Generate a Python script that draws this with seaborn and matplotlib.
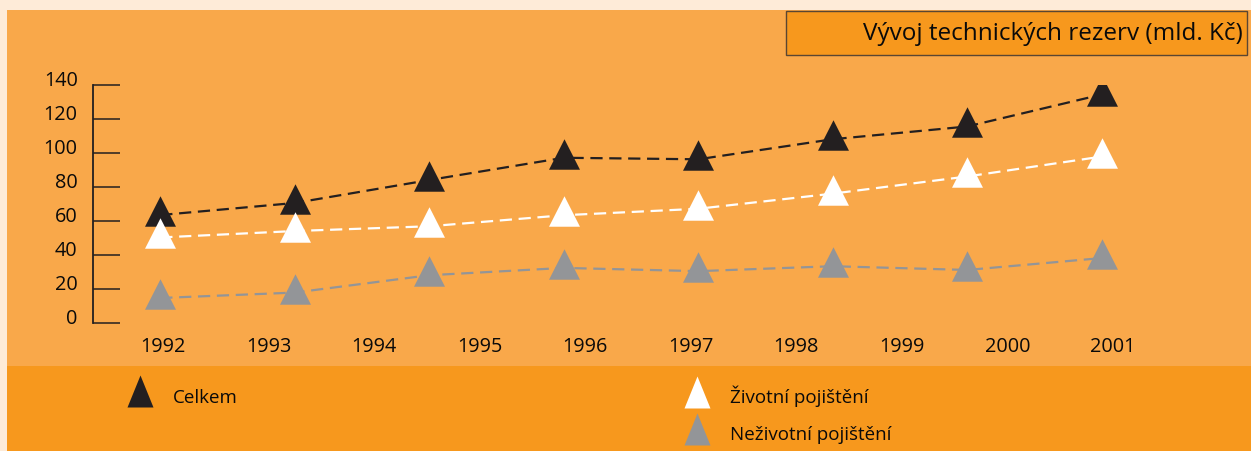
import matplotlib
matplotlib.use("Agg")
import matplotlib.pyplot as plt
from matplotlib.patches import Rectangle
from matplotlib.lines import Line2D
from matplotlib.transforms import ScaledTranslation
import seaborn as sns
import pandas as pd

# ---- data ----
years = ["1992", "1993", "1994", "1995", "1996", "1997", "1998", "1999", "2000", "2001"]
point_index = [0, 1, 2, 3, 4, 5, 6, 7]
celkem = [63.5, 70.6, 84.1, 97.2, 96.3, 108.1, 115.6, 134.4]
zivotni = [50.3, 54.1, 56.9, 63.4, 67.2, 76.1, 86.2, 97.9]
nezivotni = [14.7, 17.9, 28.1, 32.4, 30.5, 33.4, 31.2, 38.2]
series_names = ["Celkem", "Životní pojištění", "Neživotní pojištění"]
yticks = [0, 20, 40, 60, 80, 100, 120, 140]
title = "Vývoj technických rezerv (mld. Kč)"

# ---- style ----
sns.set_theme(style="white")
plt.rcParams["font.family"] = ["Open Sans", "DejaVu Sans"]
FS_TICK = 14.3
FS_LEG = 13.5
FS_TITLE = 17.5
CREAM = "#FEEBD8"
PANEL = "#F9A84A"
BAND = "#F7981D"
DARK = "#231F20"
GRAY = "#939598"
TXT = "#0A0A0A"
colors = [DARK, "#FFFFFF", GRAY]

W, H = 1251, 452
fig = plt.figure(figsize=(W / 100, H / 100), dpi=100, facecolor=CREAM)

def fx(px):
    return px / W

def fy(py):
    return 1 - py / H

# background panels
fig.add_artist(Rectangle((fx(7), fy(367)), fx(W - 7), (367 - 11) / H,
                         transform=fig.transFigure, facecolor=PANEL, edgecolor="none", zorder=-10))
fig.add_artist(Rectangle((fx(7), 0), fx(W - 7), (H - 367) / H,
                         transform=fig.transFigure, facecolor=BAND, edgecolor="none", zorder=-10))
# title box
fig.add_artist(Rectangle((fx(786), fy(56)), fx(1247 - 786), 44 / H,
                         transform=fig.transFigure, facecolor=BAND, edgecolor="#5A4632",
                         linewidth=1.0, zorder=1))
fig.text(fx(1243), fy(34), title, ha="right", va="center", fontsize=FS_TITLE, color=TXT, zorder=2)

# plot marker: triangle whose centre sits a little above the data point
tri_plot = [(0, 1), (-0.805, -0.584), (0.805, -0.584), (0, 1)]

# main axes: y from 324 (0) to 86 (140); x index -0.5 at px 93, 7.5 at px 1169
ax = fig.add_axes([fx(93), fy(324), fx(1169 - 93), (324 - 86) / H])
ax.set_facecolor("none")
ax.set_zorder(1)

df = pd.DataFrame({
    "idx": point_index * 3,
    "value": celkem + zivotni + nezivotni,
    "series": [series_names[0]] * len(point_index)
    + [series_names[1]] * len(point_index)
    + [series_names[2]] * len(point_index),
})

for name, col in zip(series_names, colors):
    sub = df[df["series"] == name]
    sns.lineplot(data=sub, x="idx", y="value", ax=ax, color=col, linewidth=1.6,
                 linestyle=(0, (5.5, 3)), marker=tri_plot, markersize=27.7,
                 markeredgecolor=col, markeredgewidth=0, legend=False)

ax.set_xlim(-0.5, 7.5)
ax.set_ylim(0, 140)
ax.set_xticks([])
ax.set_yticks(yticks)
ax.set_yticklabels([str(v) for v in yticks])
ax.set_xlabel("")
ax.set_ylabel("")
for s in ["top", "right", "bottom"]:
    ax.spines[s].set_visible(False)
ax.spines["left"].set_color(DARK)
ax.spines["left"].set_linewidth(1.3)
ax.tick_params(axis="y", direction="in", length=19.4, width=1.1, color=DARK,
               pad=11, labelsize=FS_TICK, labelcolor=TXT, left=True)
for lab in ax.get_yticklabels():
    lab.set_transform(lab.get_transform() + ScaledTranslation(0, 7 / 100, fig.dpi_scale_trans))

# year labels axis: positions 0..9 map to px 163..1113
axy = fig.add_axes([fx(163 - 52.78), fy(324), fx(1113 - 163 + 105.56), (324 - 86) / H])
axy.set_facecolor("none")
axy.set_zorder(0)
axy.set_xlim(-0.5, 9.5)
axy.set_ylim(0, 1)
axy.set_xticks(range(len(years)))
axy.set_xticklabels(years)
axy.set_yticks([])
for s in axy.spines.values():
    s.set_visible(False)
axy.tick_params(axis="x", length=0, pad=9.6, labelsize=FS_TICK, labelcolor=TXT)

# legends
tri = [(0, 1), (-0.65, -0.6), (0.65, -0.6), (0, 1)]
handles = [Line2D([], [], linestyle="none", marker=tri, markersize=28.8,
                  markerfacecolor=c, markeredgewidth=0) for c in colors]
leg1 = fig.legend(handles=handles[:1], labels=series_names[:1], loc="upper left",
                  bbox_to_anchor=(fx(121), fy(389)), frameon=False, fontsize=FS_LEG,
                  borderpad=0, borderaxespad=0, handlelength=2.0, handletextpad=0.75)
leg2 = fig.legend(handles=handles[1:], labels=series_names[1:], loc="upper left",
                  bbox_to_anchor=(fx(678), fy(386)), frameon=False, fontsize=FS_LEG,
                  borderpad=0, borderaxespad=0, handlelength=2.0, handletextpad=0.75,
                  labelspacing=1.0)
for lg in (leg1, leg2):
    for t in lg.get_texts():
        t.set_color(TXT)

fig.savefig("out.png", dpi=100, facecolor=CREAM)
